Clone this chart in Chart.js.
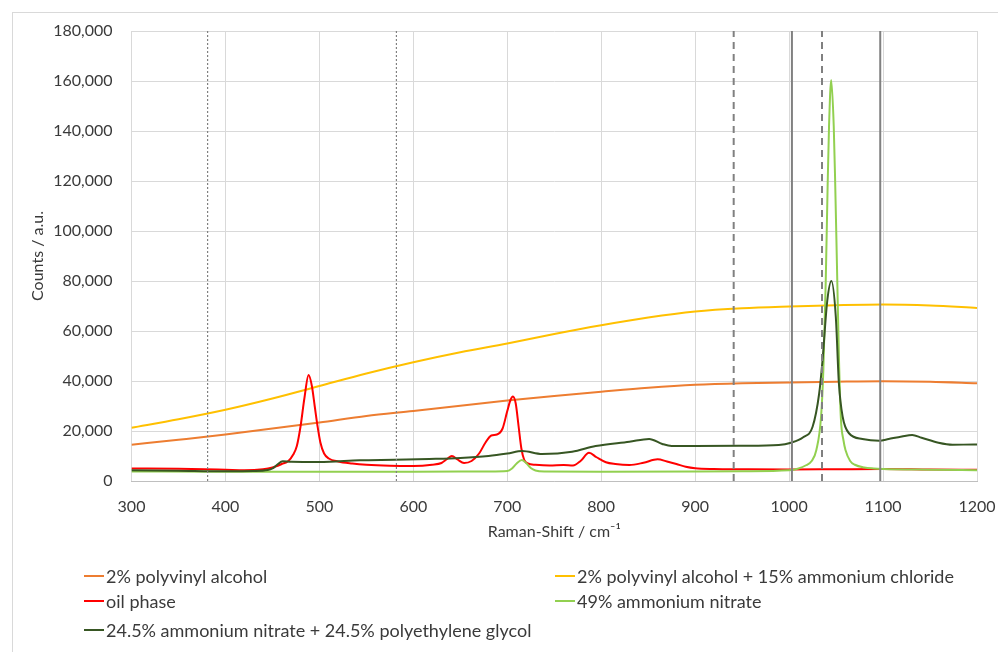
<!DOCTYPE html>
<html>
<head>
<meta charset="utf-8">
<script src="https://cdn.jsdelivr.net/npm/chart.js@4.4.1/dist/chart.umd.min.js"></script>
<style>
  html, body { margin: 0; padding: 0; background: #fff; overflow: hidden; }
  body { width: 998px; height: 652px; position: relative; font-family: Lato, "Open Sans", sans-serif; }
  #frame { position: absolute; left: 12px; top: 12px; width: 1100px; height: 800px; border: 1px solid #d9d9d9; box-sizing: border-box; }
  #c { position: absolute; left: 0; top: 0; }
  #legend { position: absolute; left: 0; top: 0; width: 998px; height: 652px; pointer-events: none; }
  .item { position: absolute; display: flex; align-items: center; font-size: 18px; color: #3a3a3a; white-space: nowrap; height: 22px; }
  .swatch { width: 20px; height: 2px; margin-right: 2px; }
</style>
</head>
<body>
<div id="frame"></div>
<canvas id="c" width="998" height="560"></canvas>
<div id="legend"></div>
<script>
// ---- data ----
const seriesLabels = [
  "2% polyvinyl alcohol",
  "2% polyvinyl alcohol + 15% ammonium chloride",
  "oil phase",
  "49% ammonium nitrate",
  "24.5% ammonium nitrate + 24.5% polyethylene glycol"
];
const seriesColors = ["#ED7D31", "#FFC000", "#FF0000", "#92D050", "#375623"];

const pvaX = [300,350,400,450,500,550,600,650,700,750,800,850,900,950,1000,1050,1100,1150,1200];
const pvaY = [14500,16500,18600,21000,23400,26000,28000,30100,32200,34000,35700,37300,38500,39100,39400,39700,39900,39700,39100];

const pvaClX = [300,350,400,450,500,550,600,650,700,750,800,850,900,950,1000,1050,1100,1150,1200];
const pvaClY = [21300,24700,28500,33000,38000,43000,47500,51500,55000,58800,62300,65400,67800,69100,69800,70300,70600,70200,69200];

const oilX = [300,350,400,420,440,450,460,467,472,476,480,484,488.5,492,495,498,501,505,510,520,535,550,575,600,620,630,636,641,647,654,662,670,677,683,689,695,700,703.5,706,709,712,715,718,722,730,745,760,770,778,787,795,805,815,830,845,860,870,880,890,900,920,950,1000,1050,1100,1150,1200];
const oilY = [5000,4900,4500,4300,4700,5400,6800,8000,10500,14000,22000,33000,42400,38000,30000,22000,15500,11000,9000,7800,7000,6500,6100,6000,6500,7200,8800,10000,8600,7200,8000,11000,15500,18200,18600,21000,28000,32500,33800,31000,22000,13000,8500,7000,6500,6200,6400,6200,8000,11300,9500,7500,6800,6400,7300,8700,7800,6800,5700,5100,4800,4700,4600,4700,4800,4600,4500];

const anX = [300,400,500,600,680,700,705,710,715.5,720,725,730,740,800,900,950,1000,1010,1018,1024,1029,1034,1036.5,1039,1041,1042.5,1044.8,1047.5,1049,1051,1053,1055,1058,1060,1065,1070,1080,1090,1100,1150,1200];
const anY = [3800,3700,3700,3700,3800,4000,5000,7000,8400,7200,5200,4200,3800,3700,3800,3900,4300,5000,6300,8000,12400,25700,45000,80000,118000,142000,160400,142000,120000,85000,50000,25700,16000,12400,8000,6500,5400,5000,4800,4500,4300];

const anPegX = [300,350,400,430,445,450,455,461,470,500,511,543,580,617,650,680,700,716,737,769,794,830,851,865,875,900,950,989,1002,1015,1025,1032,1035.5,1040.6,1045,1049.7,1053,1057,1064,1078,1096,1106,1120,1131,1141,1159,1174,1197,1200];
const anPegY = [4300,4100,3900,4000,4400,5000,6500,7900,7700,7600,7700,8300,8500,8800,9200,10000,11000,12000,10800,11700,14000,15700,16800,14800,14000,14000,14100,14400,15300,17500,21700,35000,48000,72000,80000,65700,39000,25700,19000,16800,16100,16800,17800,18400,17300,15300,14500,14600,14600];

const markerDotted = [381, 582];
const markerDashed = [941, 1035];
const markerSolid = [1003, 1097];

const xMin = 300, xMax = 1200, xStep = 100;
const yMin = 0, yMax = 180000, yStep = 20000;
const xTitle = "Raman-Shift / cm\u207B\u00B9";
const yTitle = "Counts / a.u.";

// ---- build datasets ----
const seriesX = [pvaX, pvaClX, oilX, anX, anPegX];
const seriesY = [pvaY, pvaClY, oilY, anY, anPegY];
const N = seriesLabels.length;
const datasets = seriesLabels.map((lab, i) => ({
  label: lab,
  data: seriesX[i].map((x, k) => ({ x: x, y: seriesY[i][k] })),
  borderColor: seriesColors[i],
  backgroundColor: seriesColors[i],
  borderWidth: 2,
  pointRadius: 0,
  fill: false,
  cubicInterpolationMode: 'monotone',
  order: 10 + (N - i)
}));
function marker(x, dash, width) {
  return {
    label: '', data: [{ x: x, y: yMin }, { x: x, y: yMax }],
    borderColor: '#808080', borderWidth: width, borderDash: dash,
    pointRadius: 0, fill: false, order: 1
  };
}
markerDotted.forEach(x => datasets.push(marker(x, [2, 2], 1.2)));
markerDashed.forEach(x => datasets.push(marker(x, [7, 5], 2)));
markerSolid.forEach(x => datasets.push(marker(x, [], 2)));

const textColor = '#3a3a3a';
const font16 = { family: 'Lato', size: 16 };

new Chart(document.getElementById('c'), {
  type: 'line',
  data: { datasets: datasets },
  options: {
    responsive: false,
    animation: false,
    devicePixelRatio: 1,
    layout: { padding: { left: 20, top: 31, right: 21, bottom: 0 } },
    plugins: { legend: { display: false }, tooltip: { enabled: false } },
    scales: {
      x: {
        type: 'linear', min: xMin, max: xMax,
        ticks: { stepSize: xStep, color: textColor, font: font16, padding: 16, maxRotation: 0,
          callback: v => String(v) },
        grid: { color: '#d9d9d9', drawTicks: false, lineWidth: 1 },
        border: { color: '#bfbfbf', width: 1 },
        title: { display: true, text: xTitle, color: textColor, font: font16, padding: { top: 0, bottom: 19 } },
        afterFit: s => { s.height = 79; s.paddingLeft = 0; s.paddingRight = 0; }
      },
      y: {
        min: yMin, max: yMax,
        ticks: { stepSize: yStep, color: textColor, font: font16, padding: 19,
          callback: v => v.toLocaleString('en-US') },
        grid: { color: '#d9d9d9', drawTicks: false, lineWidth: 1 },
        border: { display: false },
        title: { display: true, text: yTitle, color: textColor, font: font16, padding: { top: 8, bottom: 0 } },
        afterFit: s => { s.width = 111.5; s.paddingTop = 0; s.paddingBottom = 0; }
      }
    }
  }
});

// ---- legend (HTML, built from the same arrays) ----
const legend = document.getElementById('legend');
const colLeft = [84, 555];
const rowTop = [565, 590, 619];
seriesLabels.forEach((lab, i) => {
  const d = document.createElement('div');
  d.className = 'item';
  d.style.left = colLeft[i % 2] + 'px';
  d.style.top = rowTop[Math.floor(i / 2)] + 'px';
  const sw = document.createElement('span');
  sw.className = 'swatch';
  sw.style.background = seriesColors[i];
  const t = document.createElement('span');
  t.textContent = lab;
  d.appendChild(sw); d.appendChild(t);
  legend.appendChild(d);
});
</script>
</body>
</html>
